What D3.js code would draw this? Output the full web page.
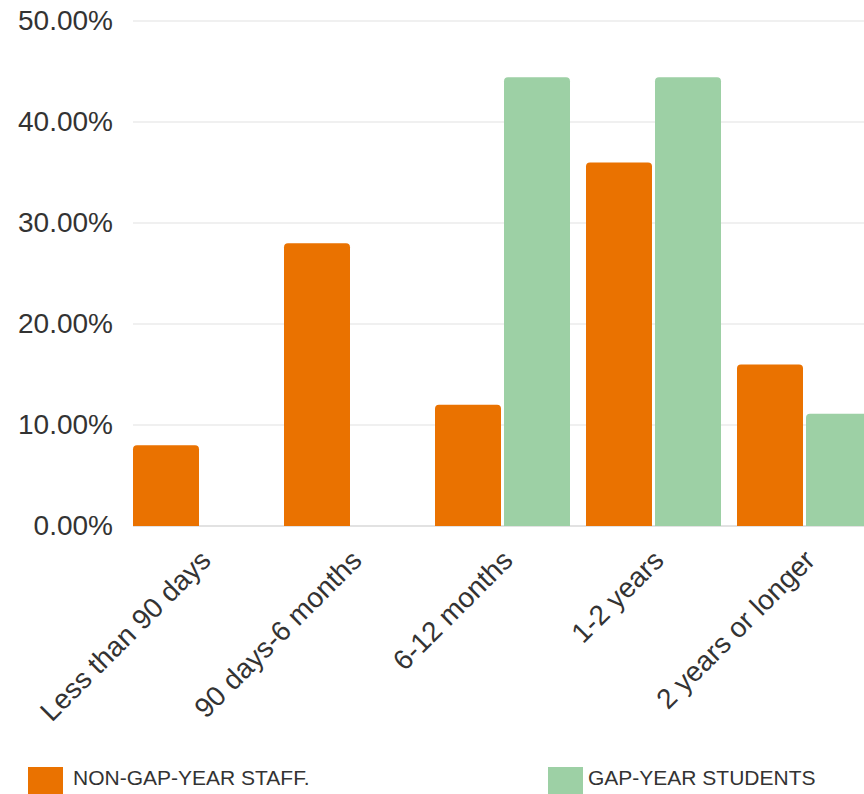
<!DOCTYPE html>
<html>
<head>
<meta charset="utf-8">
<script src="https://cdn.jsdelivr.net/npm/d3@7"></script>
<style>
  html, body { margin: 0; padding: 0; background: #ffffff; overflow: hidden; }
  svg { display: block; font-family: "Liberation Sans", Arial, Helvetica, sans-serif; }
</style>
</head>
<body>
<div id="chart"></div>
<script>
// ---- data ----
const categories = ["Less than 90 days", "90 days-6 months", "6-12 months", "1-2 years", "2 years or longer"];
const seriesNames = ["NON-GAP-YEAR STAFF.", "GAP-YEAR STUDENTS"];
const staffValues = [8, 28, 12, 36, 16];
const studentValues = [0, 0, 44.44, 44.44, 11.11];
const yTicks = [0, 10, 20, 30, 40, 50];
const seriesColors = ["#EA7200", "#9DD0A5"];

// ---- layout ----
const W = 864, H = 794;
const svg = d3.select("#chart").append("svg").attr("width", W).attr("height", H);

const y = d3.scaleLinear().domain([0, 50]).range([526, 21]);
const x0 = d3.scaleBand().domain(categories).range([125, 880]).paddingInner(0.106).paddingOuter(0.053);
const keys = ["staff", "students"];
const x1 = d3.scaleBand().domain(keys).range([0, x0.bandwidth()]).paddingInner(0.0435);
const color = d3.scaleOrdinal().domain(keys).range(seriesColors);

const rows = categories.map((c, i) => ({ cat: c, staff: staffValues[i], students: studentValues[i] }));

// y axis labels
const yAxis = d3.axisLeft(y).tickValues(yTicks).tickSize(0).tickPadding(20)
  .tickFormat(d => d3.format(".2f")(d) + "%");
const gAxis = svg.append("g").attr("transform", "translate(133,0)").call(yAxis);
gAxis.select(".domain").remove();
gAxis.selectAll(".tick text").attr("font-size", 28).attr("fill", "#333")
  .attr("font-family", "'Liberation Sans', Arial, sans-serif");

// gridlines
svg.append("g").selectAll("line").data(yTicks).join("line")
  .attr("x1", 133).attr("x2", W)
  .attr("y1", d => y(d)).attr("y2", d => y(d))
  .attr("stroke", d => d === 0 ? "#e2e2e2" : "#f0f0f0")
  .attr("stroke-width", 2);

// bars with rounded tops
function topRounded(x, yTop, w, h, r) {
  if (h <= 0) return "";
  r = Math.min(r, h, w / 2);
  return `M${x},${yTop + h} V${yTop + r} Q${x},${yTop} ${x + r},${yTop} H${x + w - r} Q${x + w},${yTop} ${x + w},${yTop + r} V${yTop + h} Z`;
}

const groups = svg.append("g").selectAll("g").data(rows).join("g")
  .attr("transform", d => `translate(${x0(d.cat)},0)`);
groups.selectAll("path").data(d => keys.map(k => ({ key: k, value: d[k] })))
  .join("path")
  .attr("d", d => topRounded(x1(d.key), y(d.value), x1.bandwidth(), y(0) - y(d.value), 4))
  .attr("fill", d => color(d.key));

// x labels
svg.append("g").selectAll("text").data(categories).join("text")
  .attr("transform", d => `translate(${x0(d) + x0.bandwidth() / 2 + 12},562) rotate(-45)`)
  .attr("text-anchor", "end")
  .attr("font-size", 28)
  .attr("fill", "#333")
  .text(d => d);

// legend
const legendX = [28, 548];
const legendTextX = [45, 40];
const lg = svg.append("g").selectAll("g").data(keys).join("g")
  .attr("transform", (d, i) => `translate(${legendX[i]},767)`);
lg.append("rect").attr("width", 35).attr("height", 35).attr("fill", d => color(d));
lg.append("text").attr("x", (d, i) => legendTextX[i]).attr("y", 18).attr("font-size", 21).attr("fill", "#333")
  .text((d, i) => seriesNames[i]);
</script>
</body>
</html>
